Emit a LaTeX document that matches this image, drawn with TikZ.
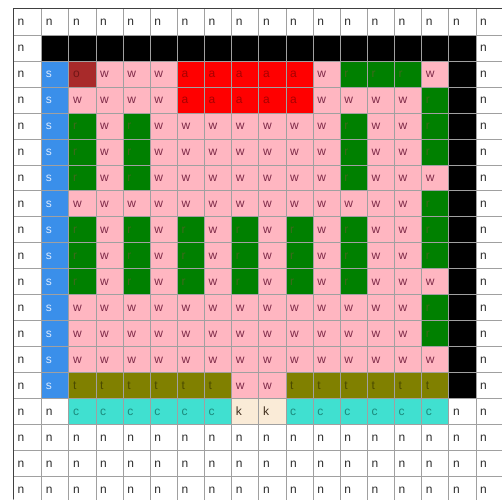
\documentclass[tikz,border=0pt]{standalone}
\usepackage{fontspec}
\setmainfont{Liberation Sans}
\definecolor{bgn}{HTML}{FFFFFF}\definecolor{fgn}{HTML}{2E2E2E}
\definecolor{bgb}{HTML}{000000}\definecolor{fgb}{HTML}{000000}
\definecolor{bgs}{HTML}{3A8FEA}\definecolor{fgs}{HTML}{D6E8FF}
\definecolor{bgo}{HTML}{A82A2A}\definecolor{fgo}{HTML}{701616}
\definecolor{bgw}{HTML}{FFB6C1}\definecolor{fgw}{HTML}{7E2A48}
\definecolor{bga}{HTML}{FF0000}\definecolor{fga}{HTML}{A80000}
\definecolor{bgr}{HTML}{008000}\definecolor{fgr}{HTML}{3E6A1C}
\definecolor{bgt}{HTML}{808000}\definecolor{fgt}{HTML}{4A4A00}
\definecolor{bgc}{HTML}{40E0D0}\definecolor{fgc}{HTML}{1C8A7C}
\definecolor{bgk}{HTML}{FAEBD7}\definecolor{fgk}{HTML}{3E2C1C}
\definecolor{gridgray}{HTML}{A0A0A0}
\definecolor{framegray}{HTML}{404040}
\begin{document}
\begin{tikzpicture}[x=1pt,y=-1pt,
  gridline/.style={draw=gridgray,line width=0.8pt},
  celltext/.style={inner sep=0pt,font=\fontsize{12}{14}\selectfont},
  frameline/.style={draw=framegray,line width=1.6pt}]
\useasboundingbox (0,0) rectangle (502,499);
\fill[white] (0,0) rectangle (502,499);
\def\bletter{b}
\foreach \rowlist [count=\k from 0] in {
{n,n,n,n,n,n,n,n,n,n,n,n,n,n,n,n,n,n},
{n,b,b,b,b,b,b,b,b,b,b,b,b,b,b,b,b,n},
{n,s,o,w,w,w,a,a,a,a,a,w,r,r,r,w,b,n},
{n,s,w,w,w,w,a,a,a,a,a,w,w,w,w,r,b,n},
{n,s,r,w,r,w,w,w,w,w,w,w,r,w,w,r,b,n},
{n,s,r,w,r,w,w,w,w,w,w,w,r,w,w,r,b,n},
{n,s,r,w,r,w,w,w,w,w,w,w,r,w,w,w,b,n},
{n,s,w,w,w,w,w,w,w,w,w,w,w,w,w,r,b,n},
{n,s,r,w,r,w,r,w,r,w,r,w,r,w,w,r,b,n},
{n,s,r,w,r,w,r,w,r,w,r,w,r,w,w,r,b,n},
{n,s,r,w,r,w,r,w,r,w,r,w,r,w,w,w,b,n},
{n,s,w,w,w,w,w,w,w,w,w,w,w,w,w,r,b,n},
{n,s,w,w,w,w,w,w,w,w,w,w,w,w,w,r,b,n},
{n,s,w,w,w,w,w,w,w,w,w,w,w,w,w,w,b,n},
{n,s,t,t,t,t,t,t,w,w,t,t,t,t,t,t,b,n},
{n,n,c,c,c,c,c,c,k,k,c,c,c,c,c,c,n,n},
{n,n,n,n,n,n,n,n,n,n,n,n,n,n,n,n,n,n},
{n,n,n,n,n,n,n,n,n,n,n,n,n,n,n,n,n,n},
{n,n,n,n,n,n,n,n,n,n,n,n,n,n,n,n,n,n}} {
  \foreach \ch [count=\c from 0] in \rowlist {
    \pgfmathsetmacro\xl{\c==0 ? 13.3 : 41.7+27.14*(\c-1)}
    \pgfmathsetmacro\xr{41.7+27.14*\c}
    \pgfmathsetmacro\yt{\k==0 ? 8.3 : 35+25.98*(\k-1)}
    \pgfmathsetmacro\yb{35+25.98*\k}
    \pgfmathsetmacro\ybase{(\yt+\yb)/2+3.7}
    \fill[bg\ch] (\xl,\yt) rectangle (\xr,\yb);
    \draw[gridline] (\xl,\yt) rectangle (\xr,\yb);
    \edef\cur{\ch}
    \ifx\cur\bletter\else
      \node[celltext,text=fg\ch,anchor=base west] (cell-\k-\c) at (\xl+4,\ybase) {\ch};
    \fi
  }
}
\coordinate (frameTL) at (13.3,8.3);
\coordinate (frameTR) at (502,8.3);
\coordinate (frameBL) at (13.3,499);
\draw[frameline] (frameBL) -- (frameTL) -- (frameTR);
\end{tikzpicture}
\end{document}
